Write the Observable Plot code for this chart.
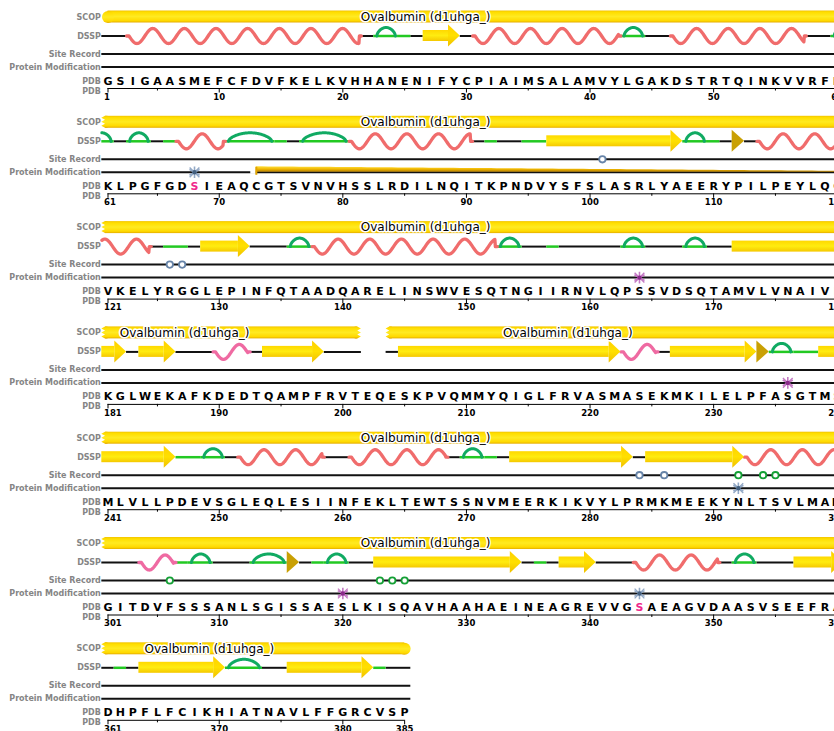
<!DOCTYPE html>
<html><head><meta charset="utf-8">
<script src="https://cdn.jsdelivr.net/npm/d3@7"></script>
<script src="https://cdn.jsdelivr.net/npm/@observablehq/plot@0.6"></script>
<style>
html,body{margin:0;padding:0;background:#fff;overflow:hidden;}
</style></head>
<body><div id="chart"></div>
<script>
// ---------- DATA ----------
const sequenceRows = [
  "GSIGAASMEFCFDVFKELKVHHANENIFYCPIAIMSALAMVYLGAKDSTRTQINKVVRFD",
  "KLPGFGDSIEAQCGTSVNVHSSLRDILNQITKPNDVYSFSLASRLYAEERYPILPEYLQC",
  "VKELYRGGLEPINFQTAADQARELINSWVESQTNGIIRNVLQPSSVDSQTAMVLVNAIVF",
  "KGLWEKAFKDEDTQAMPFRVTEQESKPVQMMYQIGLFRVASMASEKMKILELPFASGTMS",
  "MLVLLPDEVSGLEQLESIINFEKLTEWTSSNVMEERKIKVYLPRMKMEEKYNLTSVLMAM",
  "GITDVFSSSANLSGISSAESLKISQAVHAAHAEINEAGREVVGSAEAGVDAASVSEEFRA",
  "DHPFLFCIKHIATNAVLFFGRCVSP"
];
// DSSP per residue: H helix, G 3-10 helix, E strand, B bridge, T turn, S bend, - coil, x unobserved
const dsspRows = [
  "--HHHHHHHHHHHHHHHHHHH-TTS-EEE-HHHHHHHHHHHHTT--HHHHHHHHHHH--T",
  "T-TT-SHHHHTTTTS-TTTTHHHHHHHHHH-S--SSEEEEEEEEEEETTS-B-HHHHHHH",
  "HHHH-SS-EEEE---TTHHHHHHHHHHHHHHHTT--S-----TT---TT--EEEEEEEEE",
  "EE-EEE---GGG-EEEEE---xx-EEEEEEEEEEEEEEEEEEGGG-EEEEEEEBTTSSEE",
  "EEEEEESSTT-HHHHHHH--HHHHHHHH-TTS-EEEEEEEEEE-EEEEEEEEHHHHHHHH",
  "---GGGSTT---TTTB-STT--EEEEEEEEEEEE-S-EEE---HHHHHHH-TT---EEEE",
  "-S-EEEEEEETTT--EEEEEEES--"
];
const trackNames = ["SCOP", "DSSP", "Site Record", "Protein Modification", "PDB", "PDB"];
const scopDomains = [{name: "Ovalbumin (d1uhga_)", start: 1, end: 385}];
const siteRecords = [
  {residue: 101, group: "A"}, {residue: 126, group: "A"}, {residue: 127, group: "A"},
  {residue: 284, group: "A"}, {residue: 286, group: "A"},
  {residue: 292, group: "B"}, {residue: 294, group: "B"}, {residue: 295, group: "B"},
  {residue: 306, group: "B"}, {residue: 323, group: "B"}, {residue: 324, group: "B"}, {residue: 325, group: "B"}
];
const modifications = [
  {residue: 68, group: "A"}, {residue: 164, group: "B"}, {residue: 236, group: "B"},
  {residue: 292, group: "A"}, {residue: 320, group: "B"}, {residue: 344, group: "A"}
];
const modifiedResidues = [68, 344];
const disulfides = [{from: 73, to: 120}];

// ---------- LAYOUT / STYLE ----------
const ROW = 60, STRIDE = 105.3;
const Y = {scop: 16.5, dssp: 35.5, site: 53.5, mod: 66.5, seq: 80.5, axis: 88, tick: 96.5};
const trackY = [16.5, 35.5, 53.5, 66.5, 80.5, 90.5];
const PAL = {coil: "#111", helix: "#f06c6c", g310: "#ef6aa2", turn: "#10aa62", bend: "#22c922", bridge: "#c9a004"};
const SITE_COLORS = {A: "#6784a8", B: "#14a035"};
const MOD_COLORS = {A: {light: "#93a9c6", dark: "#44607f"}, B: {light: "#c47ac4", dark: "#8a2a8a"}};
const FONT = "DejaVu Sans";

const nBlocks = sequenceRows.length;
const blockLen = b => sequenceRows[b].length;
const seq = sequenceRows.join("");
const dssp = dsspRows.join("");
if (dssp.length !== seq.length) throw new Error("dssp length " + dssp.length + " vs " + seq.length);
const blockOf = r => Math.floor((r - 1) / ROW);
const colOf = r => r - blockOf(r) * ROW;
const baseOf = r => blockOf(r) * STRIDE;

function pieces(p0, p1) {
  const out = [];
  for (let b = 0; b < nBlocks; b++) {
    const lo = b * ROW + 0.5, hi = b * ROW + blockLen(b) + 0.5;
    const a = Math.max(p0, lo), z = Math.min(p1, hi);
    if (z > a) out.push({b, c0: a - b * ROW, c1: z - b * ROW, startsHere: p0 >= lo, endsHere: p1 <= hi});
  }
  return out;
}
function curve(p0, p1, f, id, step = 0.05) {
  const pts = [];
  for (const pc of pieces(p0, p1)) {
    const g0 = pc.c0 + pc.b * ROW, g1 = pc.c1 + pc.b * ROW;
    const n = Math.max(1, Math.ceil((g1 - g0) / step));
    for (let i = 0; i <= n; i++) {
      const g = g0 + (g1 - g0) * i / n;
      pts.push({x: g - pc.b * ROW, base: pc.b * STRIDE, v: f(g), z: id + "_" + pc.b});
    }
  }
  return pts;
}

// segments of DSSP
const segs = [];
for (let i = 0; i < dssp.length;) {
  let j = i;
  while (j + 1 < dssp.length && dssp[j + 1] === dssp[i]) j++;
  segs.push({type: dssp[i], start: i + 1, end: j + 1});
  i = j + 1;
}
const gaps = segs.filter(s => s.type === "x");
const coilRules = [], bendRules = [], helixPts = [], g310Pts = [], turnPts = [];
const strandBodies = [], headPts = [], bridgePts = [];
segs.forEach((s, k) => {
  const p0 = s.start - 0.5, p1 = s.end + 0.5;
  const rule = arr => pieces(p0, p1).forEach(pc => arr.push({x1: pc.c0, x2: pc.c1, y: pc.b * STRIDE + Y.dssp}));
  if (s.type === "-") rule(coilRules);
  else if (s.type === "S") rule(bendRules);
  else if (s.type === "T") {
    rule(bendRules);
    const a0 = p0 + 0.25, a1 = p1 - 0.25;
    turnPts.push(...curve(a0, a1, g => -8.5 * Math.pow(Math.max(0, Math.sin(Math.PI * (g - a0) / (a1 - a0))), 0.55), "t" + k, 0.04));
  } else if (s.type === "H" || s.type === "G") {
    const st = 0.2, P = 2.56;
    (s.type === "H" ? helixPts : g310Pts).push(...curve(p0, p1, g => {
      const t = g - p0 - st;
      if (t < 0 || g > p1 - st) return 0;
      return 7.5 * Math.sin(2 * Math.PI * t / P);
    }, "h" + k, 0.04));
  } else if (s.type === "E") {
    const HL = 0.95;
    pieces(p0, p1 - HL).forEach(pc => strandBodies.push({x1: pc.c0, x2: pc.c1, y1: pc.b * STRIDE + Y.dssp - 5.5, y2: pc.b * STRIDE + Y.dssp + 5.5}));
    headPts.push(...curve(p1 - HL, p1, g => 11 * (p1 - g) / HL, "e" + k, HL));
  } else if (s.type === "B") {
    bridgePts.push(...curve(p0, p1, g => 11 * (p1 - g) / (p1 - p0), "b" + k, 1));
  }
});

// SCOP: domain split at unobserved gaps; true chain ends rounded, breaks jagged
const scopBars = [], scopCaps = [], scopTeeth = [], scopLabels = [];
scopDomains.forEach((d, k) => {
  // observed parts of the domain
  const parts = [];
  let s0 = d.start;
  gaps.filter(g => g.start > d.start && g.end < d.end).forEach(g => { parts.push([s0, g.start - 1]); s0 = g.end + 1; });
  parts.push([s0, d.end]);
  parts.forEach(([ps, pe], pi) => {
    const trueStart = ps === d.start, trueEnd = pe === d.end;
    pieces(ps - 0.5, pe + 0.5).forEach(pc => {
      const base = pc.b * STRIDE, id = "s" + k + "_" + pi + "_" + pc.b;
      const roundL = pc.startsHere && trueStart, roundR = pc.endsHere && trueEnd;
      const jagL = !roundL, jagR = pc.endsHere && !trueEnd;
      const x1 = pc.c0 + (roundL ? 0.5 : 0.3);
      const x2 = pc.c1 - (roundR ? 0.5 : jagR ? 0.3 : 0);
      scopBars.push({x1, x2, y1: base + Y.scop - 6, y2: base + Y.scop + 6});
      if (roundL) scopCaps.push({x: x1, y: base + Y.scop});
      if (roundR) scopCaps.push({x: x2, y: base + Y.scop});
      if (jagL) for (let i = 0; i <= 6; i++) scopTeeth.push({y: base + Y.scop - 6 + 2 * i, x1: pc.c0 + (i % 2 ? 0 : 0.3), x2: pc.c0 + 0.5, z: id + "L"});
      if (jagR) for (let i = 0; i <= 6; i++) scopTeeth.push({y: base + Y.scop - 6 + 2 * i, x1: pc.c1 - 0.5, x2: pc.c1 - (i % 2 ? 0 : 0.3), z: id + "R"});
      scopLabels.push({x: (pc.c0 + pc.c1) / 2, y: base + Y.scop, text: d.name});
    });
  });
});

// disulfide
const ssPts = [], ssTicks = [], ssGaps = [];
disulfides.forEach((d, k) => {
  ssPts.push(...curve(d.from, d.to, g => 4.5 * (1 - (g - d.from) / (d.to - d.from)), "ss" + k, 0.5));
  ssTicks.push({x: colOf(d.from), y1: baseOf(d.from) + Y.mod - 5, y2: baseOf(d.from) + Y.mod + 3});
  ssGaps.push({x1: colOf(d.from) - 0.45, x2: colOf(d.from), y: baseOf(d.from) + Y.mod});
});

// per-block lines, labels, axis
const trackRules = [], trackLabels = [], axisRules = [], majorTicks = [], minorTicks = [], tickLabels = [];
for (let b = 0; b < nBlocks; b++) {
  const base = b * STRIDE, n = blockLen(b);
  trackRules.push({x1: 0.5, x2: n + 0.5, y: base + Y.site});
  trackRules.push({x1: 0.5, x2: n + 0.5, y: base + Y.mod});
  trackNames.forEach((t, i) => trackLabels.push({x: 0.5, y: base + trackY[i], text: t}));
  axisRules.push({x1: 1, x2: n, y: base + Y.axis});
  for (let c = 1; c <= n; c++) {
    const r = b * ROW + c;
    const labeled = c === 1 || r % 10 === 0 || (b === nBlocks - 1 && c === n);
    if (labeled) {
      majorTicks.push({x: c, y1: base + Y.axis, y2: base + Y.axis + 4.5});
      tickLabels.push({x: c, y: base + Y.tick, text: String(r), first: c === 1});
    } else if (r % 10 === 5) {
      minorTicks.push({x: c, y1: base + Y.axis, y2: base + Y.axis + 2.5});
    }
  }
}
const seqData = Array.from(seq, (ch, i) => ({x: colOf(i + 1), y: baseOf(i + 1) + Y.seq, text: ch, hl: modifiedResidues.includes(i + 1)}));

const dssPY = d => d.base + Y.dssp;
const chart = Plot.plot({
  width: 834, height: 731, margin: 0,
  x: {domain: [0.5, 60.5], range: [101.32, 842.92], axis: null},
  y: {domain: [0, 731], range: [0, 731], axis: null},
  color: {type: "identity"},
  style: {overflow: "visible", fontFamily: FONT, background: "white"},
  marks: [
    Plot.ruleY(trackRules, {x1: "x1", x2: "x2", y: "y", stroke: PAL.coil, strokeWidth: 2}),
    Plot.ruleY(coilRules, {x1: "x1", x2: "x2", y: "y", stroke: PAL.coil, strokeWidth: 2}),
    Plot.ruleY(bendRules, {x1: "x1", x2: "x2", y: "y", stroke: PAL.bend, strokeWidth: 2.5}),
    // SCOP
    Plot.rect(scopBars, {x1: "x1", x2: "x2", y1: "y1", y2: "y2", fill: "url(#scopGrad)"}),
    Plot.dot(scopCaps, {x: "x", y: "y", r: 6, fill: "url(#scopGrad)"}),
    Plot.areaX(scopTeeth, {y: "y", x1: "x1", x2: "x2", z: "z", fill: "url(#scopGrad)", curve: "linear"}),
    // DSSP
    Plot.line(helixPts, {x: "x", y: d => dssPY(d) + d.v, z: "z", stroke: PAL.helix, strokeWidth: 3.3, strokeLinecap: "round", strokeLinejoin: "round"}),
    Plot.line(g310Pts, {x: "x", y: d => dssPY(d) + d.v, z: "z", stroke: PAL.g310, strokeWidth: 3.3, strokeLinecap: "round", strokeLinejoin: "round"}),
    Plot.line(turnPts, {x: "x", y: d => dssPY(d) + d.v, z: "z", stroke: PAL.turn, strokeWidth: 3, strokeLinecap: "round"}),
    Plot.rect(strandBodies, {x1: "x1", x2: "x2", y1: "y1", y2: "y2", fill: "url(#strandGrad)"}),
    Plot.areaY(headPts, {x: "x", y1: d => dssPY(d) - d.v, y2: d => dssPY(d) + d.v, z: "z", fill: "url(#headGrad)", curve: "linear"}),
    Plot.areaY(bridgePts, {x: "x", y1: d => dssPY(d) - d.v, y2: d => dssPY(d) + d.v, z: "z", fill: PAL.bridge, curve: "linear"}),
    // disulfide
    Plot.ruleY(ssGaps, {x1: "x1", x2: "x2", y: "y", stroke: "white", strokeWidth: 3}),
    Plot.areaY(ssPts, {x: "x", y1: d => d.base + Y.mod - 1 - d.v, y2: d => d.base + Y.mod, z: "z", fill: "url(#ssGrad)", curve: "linear"}),
    Plot.ruleX(ssTicks, {x: "x", y1: "y1", y2: "y2", stroke: "#e0a400", strokeWidth: 2}),
    // sites & modifications
    Plot.dot(siteRecords, {x: d => colOf(d.residue), y: d => baseOf(d.residue) + Y.site, r: 3.2, fill: "white", stroke: d => SITE_COLORS[d.group], strokeWidth: 1.8}),
    Plot.dot(modifications, {x: d => colOf(d.residue), y: d => baseOf(d.residue) + Y.mod, r: 5.5, symbol: "asterisk", stroke: d => MOD_COLORS[d.group].light, strokeWidth: 1.6}),
    Plot.dot(modifications, {x: d => colOf(d.residue), y: d => baseOf(d.residue) + Y.mod, r: 4.5, symbol: "times", stroke: d => MOD_COLORS[d.group].light, strokeWidth: 1.4}),
    Plot.dot(modifications, {x: d => colOf(d.residue), y: d => baseOf(d.residue) + Y.mod, r: 2.2, fill: d => MOD_COLORS[d.group].dark}),
    // texts
    Plot.text(scopLabels, {x: "x", y: "y", text: "text", dx: -47, fontSize: 12, fill: "black", stroke: "white", strokeWidth: 3, paintOrder: "stroke", fontFamily: FONT}),
    Plot.text(trackLabels, {x: "x", y: "y", text: "text", dx: -1, textAnchor: "end", fontSize: 8, fontWeight: "bold", fill: "#858585", fontFamily: FONT}),
    Plot.text(seqData.filter(d => !d.hl), {x: "x", y: "y", text: "text", fontSize: 11, fontWeight: "bold", fill: "black", fontFamily: FONT}),
    Plot.text(seqData.filter(d => d.hl), {x: "x", y: "y", text: "text", fontSize: 11, fontWeight: "bold", fill: "#f0288c", fontFamily: FONT}),
    Plot.ruleY(axisRules, {x1: "x1", x2: "x2", y: "y", stroke: "black", strokeWidth: 1}),
    Plot.ruleX(majorTicks, {x: "x", y1: "y1", y2: "y2", stroke: "black", strokeWidth: 1}),
    Plot.ruleX(minorTicks, {x: "x", y1: "y1", y2: "y2", stroke: "black", strokeWidth: 1}),
    Plot.text(tickLabels.filter(d => d.first), {x: "x", y: "y", text: "text", textAnchor: "start", dx: -4, fontSize: 8.5, fontWeight: "bold", fill: "black", fontFamily: FONT}),
    Plot.text(tickLabels.filter(d => !d.first), {x: "x", y: "y", text: "text", fontSize: 8.5, fontWeight: "bold", fill: "black", fontFamily: FONT})
  ]
});
const defs = d3.select(chart).insert("defs", ":first-child");
function grad(id, stops) {
  const g = defs.append("linearGradient").attr("id", id).attr("x1", 0).attr("y1", 0).attr("x2", 0).attr("y2", 1);
  stops.forEach(([o, c]) => g.append("stop").attr("offset", o).attr("stop-color", c));
}
grad("scopGrad", [[0, "#f2c400"], [0.15, "#ffde00"], [0.5, "#ffea22"], [0.85, "#ffd900"], [1, "#e4ac00"]]);
grad("strandGrad", [[0, "#ffd800"], [0.5, "#ffec10"], [1, "#f5c800"]]);
grad("headGrad", [[0, "#ffd000"], [0.5, "#ffe000"], [1, "#f0c000"]]);
grad("ssGrad", [[0, "#ffe040"], [0.5, "#f2b800"], [1, "#b07a00"]]);
document.getElementById("chart").appendChild(chart);
</script>
</body></html>
